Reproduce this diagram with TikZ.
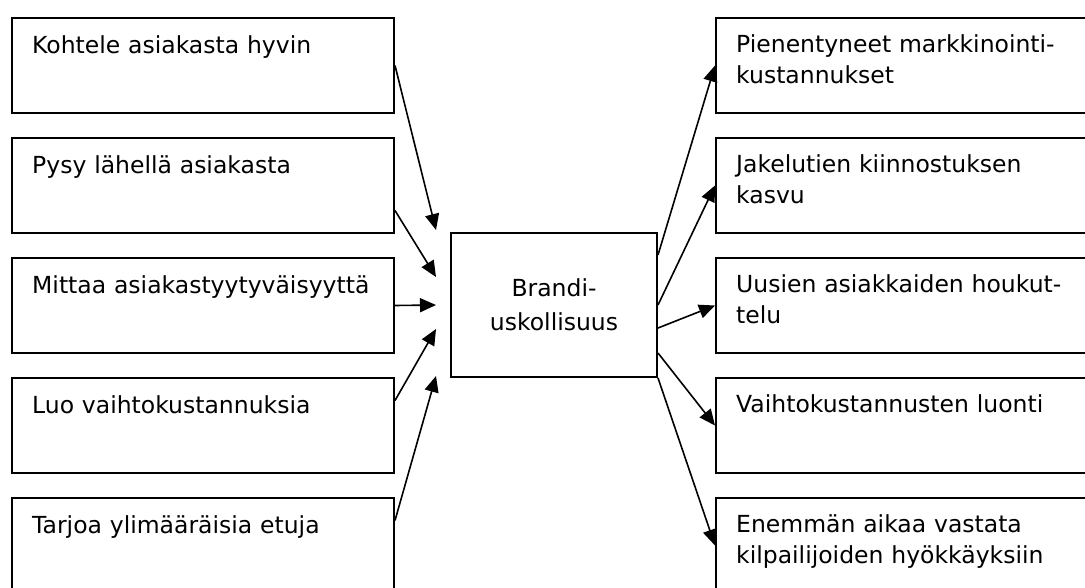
\documentclass[tikz,border=0pt]{standalone}
\usepackage{fontspec}
\setmainfont{DejaVu Sans}
\usetikzlibrary{arrows.meta,calc}

\newlength{\du}
\setlength{\du}{1pt}

\tikzset{
  keinobox/.style={draw, line width=2\du, anchor=north west, inner sep=0pt,
    minimum width=382\du, minimum height=95\du},
  hyotybox/.style={keinobox, minimum width=420\du},
  boxtext/.style={anchor=base west, align=left, inner sep=0pt, text width=360\du,
    font=\fontsize{23.5\du}{31\du}\selectfont},
  brandbox/.style={draw, line width=2\du, inner sep=0pt, align=center,
    minimum width=206\du, minimum height=144\du,
    font=\fontsize{23.5\du}{34\du}\selectfont},
  link/.style={line width=1.6\du, -{Triangle[length=16pt,width=14pt]}},
}

\begin{document}
\begin{tikzpicture}
\pgftransformxscale{1.000000}
\pgftransformyscale{-1.000000}
\useasboundingbox (0,0) rectangle (1085\du,587\du);
\clip (0,0) rectangle (1085\du,587\du);

% keinot
\node[keinobox] (k1) at (11\du,17\du) {};
\node[boxtext] (k1t) at (32\du,53\du) {Kohtele asiakasta hyvin};
\node[keinobox] (k2) at (11\du,137\du) {};
\node[boxtext] (k2t) at (32\du,173\du) {Pysy lähellä asiakasta};
\node[keinobox] (k3) at (11\du,257\du) {};
\node[boxtext] (k3t) at (32\du,293\du) {Mittaa asiakastyytyväisyyttä};
\node[keinobox] (k4) at (11\du,377\du) {};
\node[boxtext] (k4t) at (32\du,413\du) {Luo vaihtokustannuksia};
\node[keinobox] (k5) at (11\du,497\du) {};
\node[boxtext] (k5t) at (32\du,533\du) {Tarjoa ylimääräisia etuja};

\node[brandbox] (brandi) at (554\du,305\du) {Brandi-\\uskollisuus};

% hyodyt
\node[hyotybox] (h1) at (715\du,17\du) {};
\node[boxtext] (h1t) at (736\du,52\du) {Pienentyneet markkinointi-\\kustannukset};
\node[hyotybox] (h2) at (715\du,137\du) {};
\node[boxtext] (h2t) at (736\du,172\du) {Jakelutien kiinnostuksen\\kasvu};
\node[hyotybox] (h3) at (715\du,257\du) {};
\node[boxtext] (h3t) at (736\du,292\du) {Uusien asiakkaiden houkut-\\telu};
\node[hyotybox] (h4) at (715\du,377\du) {};
\node[boxtext] (h4t) at (736\du,412\du) {Vaihtokustannusten luonti};
\node[hyotybox] (h5) at (715\du,497\du) {};
\node[boxtext] (h5t) at (736\du,532\du) {Enemmän aikaa vastata\\kilpailijoiden hyökkäyksiin};

\coordinate (in1) at (436\du,230\du);
\coordinate (in2) at (436\du,277\du);
\coordinate (in3) at (436\du,305\du);
\coordinate (in4) at (436\du,329\du);
\coordinate (in5) at (436\du,376\du);

\draw[link] (k1.east) -- (in1);
\draw[link] ($(k2.east)+(0,25\du)$) -- (in2);
\draw[link] (k3.east) -- (in3);
\draw[link] ($(k4.east)+(0,-25\du)$) -- (in4);
\draw[link] ($(k5.east)+(0,-25\du)$) -- (in5);

\draw[link] ($(brandi.east)+(0,-50\du)$) -- (h1.west);
\draw[link] (brandi.east) -- (h2.west);
\draw[link] ($(brandi.east)+(0,23\du)$) -- (h3.west);
\draw[link] ($(brandi.east)+(0,48\du)$) -- (h4.west);
\draw[link] (brandi.south east) -- (h5.west);
\end{tikzpicture}
\end{document}
